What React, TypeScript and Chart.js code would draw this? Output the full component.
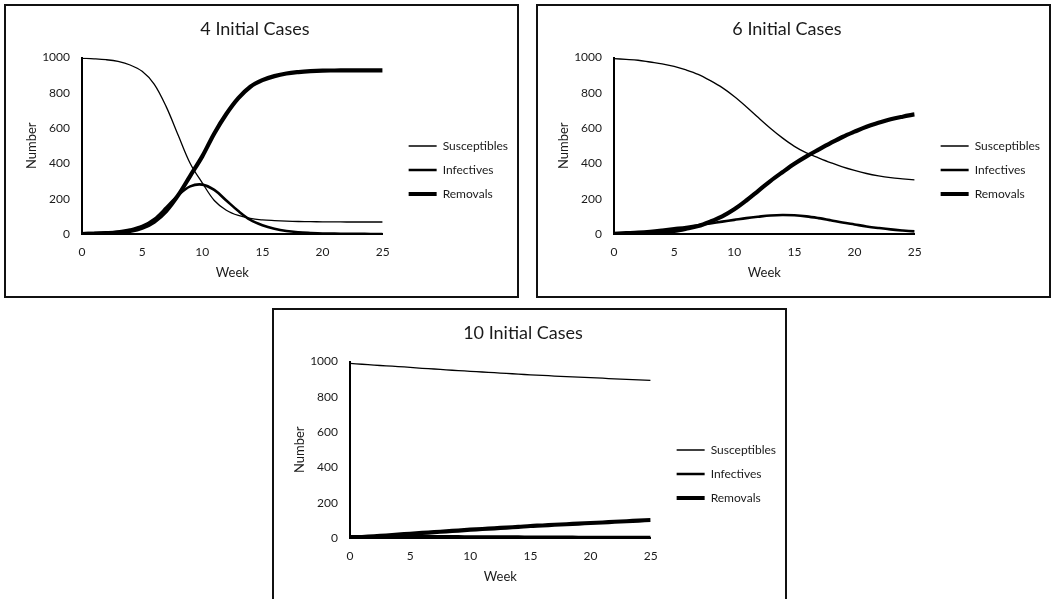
import React, { useEffect, useRef } from "react";
import { Chart, registerables } from "chart.js";

Chart.register(...registerables);

const weeks = [0, 1, 2, 3, 4, 5, 6, 7, 8, 9, 10, 11, 12, 13, 14, 15, 16, 17, 18, 19, 20, 21, 22, 23, 24, 25];
const xTicks = [0, 5, 10, 15, 20, 25];
const yTicks = [0, 200, 400, 600, 800, 1000];
const seriesNames = ["Susceptibles", "Infectives", "Removals"];

// 4 initial cases
const s4 = [996, 993, 988, 978, 958, 922, 850, 722, 560, 400, 290, 190, 135, 105, 88, 80, 76, 73, 71, 70, 69, 69, 68, 68, 68, 68];
const i4 = [4, 6, 9, 14, 25, 45, 85, 150, 220, 270, 280, 250, 190, 130, 80, 50, 30, 17, 10, 6, 3, 2, 1, 1, 0, 0];
const r4 = [0, 1, 3, 8, 17, 35, 70, 130, 220, 330, 440, 570, 680, 770, 835, 872, 895, 910, 918, 923, 926, 927, 928, 928, 928, 928];

// 6 initial cases
const s6 = [994, 990, 985, 975, 965, 950, 930, 905, 870, 830, 780, 722, 660, 600, 545, 497, 460, 432, 405, 380, 360, 343, 330, 320, 313, 307];
const i6 = [6, 9, 12, 17, 24, 32, 40, 50, 60, 70, 80, 90, 98, 105, 108, 106, 100, 90, 78, 65, 54, 43, 34, 26, 20, 15];
const r6 = [0, 1, 3, 7, 12, 18, 30, 45, 70, 100, 140, 190, 245, 300, 350, 398, 440, 478, 515, 550, 580, 608, 630, 650, 665, 678];

// 10 initial cases
const s10 = [990, 985, 980, 976, 972, 967, 962, 958, 953, 949, 945, 941, 937, 933, 929, 925, 922, 918, 915, 912, 909, 906, 902, 899, 896, 893];
const i10 = [10, 10, 10, 10, 9, 9, 9, 9, 9, 9, 8, 8, 8, 8, 8, 7, 7, 7, 7, 6, 6, 6, 6, 6, 5, 5];
const r10 = [0, 5, 10, 14, 19, 24, 29, 33, 38, 42, 47, 51, 55, 59, 63, 68, 71, 75, 78, 82, 85, 88, 92, 95, 99, 102];

const FONT = "Lato";
const TEXT = "#1a1a1a";
const widths = [1.3, 2.6, 4.2];

const legendShift = {
  id: "legendShift",
  afterLayout(chart: any) {
    const lg = chart.legend;
    if (!lg) return;
    lg.top += 19;
    lg.bottom += 19;
    lg.left += 14;
    lg.right += 14;
  },
};

function SirChart({ title, s, i, r }: { title: string; s: number[]; i: number[]; r: number[] }) {
  const ref = useRef<HTMLCanvasElement>(null);
  useEffect(() => {
    if (!ref.current) return;
    const all = [s, i, r];
    const chart = new Chart(ref.current, {
      type: "line",
      data: {
        datasets: all.map((arr, k) => ({
          label: seriesNames[k],
          data: weeks.map((w, j) => ({ x: w, y: arr[j] })),
          borderColor: "#000",
          backgroundColor: "#000",
          borderWidth: widths[k],
          pointRadius: 0,
          tension: 0.35,
          fill: false,
        })),
      },
      options: {
        animation: false,
        responsive: false,
        maintainAspectRatio: false,
        layout: { padding: { left: 0, right: 13, top: 0, bottom: 0 } },
        plugins: {
          title: {
            display: true,
            text: title,
            color: TEXT,
            font: { family: FONT, size: 18, weight: "normal" },
            padding: { top: 12, bottom: 18 },
          },
          legend: {
            display: true,
            position: "right",
            align: "center",
            labels: {
              usePointStyle: true,
              pointStyle: "line",
              pointStyleWidth: 28,
              padding: 12,
              color: TEXT,
              font: { family: FONT, size: 12 },
            },
          },
          tooltip: { enabled: false },
        },
        scales: {
          x: {
            type: "linear",
            min: 0,
            max: 25,
            afterFit: (sc: any) => {
              sc.height = 62;
            },
            afterBuildTicks: (sc: any) => {
              sc.ticks = xTicks.map((v) => ({ value: v }));
            },
            grid: { display: false, drawTicks: false },
            border: { display: true, color: "#000", width: 2 },
            ticks: {
              color: TEXT,
              padding: 11,
              font: { family: FONT, size: 12 },
              callback: (v: any) => String(v),
            },
            title: {
              display: true,
              text: "Week",
              color: TEXT,
              font: { family: FONT, size: 13 },
              padding: { top: 0, bottom: 15 },
            },
          },
          y: {
            min: 0,
            max: 1000,
            afterFit: (sc: any) => {
              sc.width = 76;
            },
            afterBuildTicks: (sc: any) => {
              sc.ticks = yTicks.map((v) => ({ value: v }));
            },
            grid: { display: false, drawTicks: false },
            border: { display: true, color: "#000", width: 2 },
            ticks: {
              color: TEXT,
              padding: 12,
              font: { family: FONT, size: 12 },
              callback: (v: any) => String(v),
            },
            title: {
              display: true,
              text: "Number",
              color: TEXT,
              font: { family: FONT, size: 13 },
              padding: { top: 18, bottom: 0 },
            },
          },
        },
      },
      plugins: [legendShift],
    });
    return () => chart.destroy();
  }, [title, s, i, r]);
  return <canvas ref={ref} width={511} height={290} style={{ display: "block" }} />;
}

const boxStyle = (left: number, top: number): React.CSSProperties => ({
  position: "absolute",
  left,
  top,
  width: 515,
  height: 294,
  boxSizing: "border-box",
  border: "2px solid #111",
  background: "#fff",
});

export default function App() {
  return (
    <div style={{ position: "absolute", left: 0, top: 0, width: 1051, height: 599, overflow: "hidden", background: "#fff" }}>
      <div style={boxStyle(4, 4)}>
        <SirChart title="4 Initial Cases" s={s4} i={i4} r={r4} />
      </div>
      <div style={boxStyle(536, 4)}>
        <SirChart title="6 Initial Cases" s={s6} i={i6} r={r6} />
      </div>
      <div style={boxStyle(272, 308)}>
        <SirChart title="10 Initial Cases" s={s10} i={i10} r={r10} />
      </div>
    </div>
  );
}
